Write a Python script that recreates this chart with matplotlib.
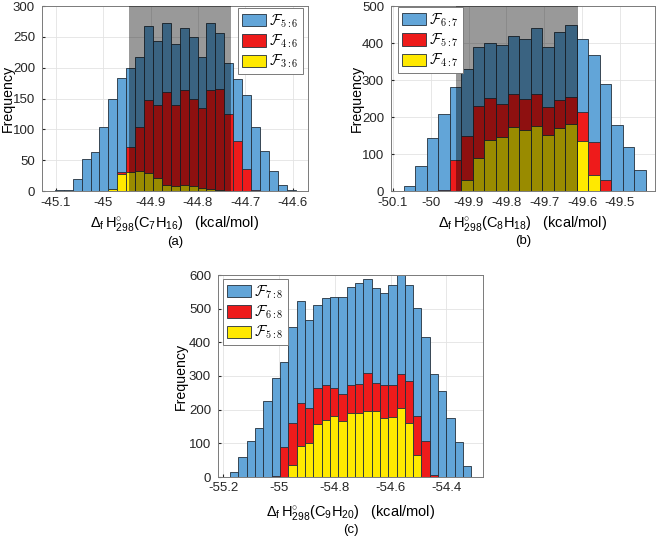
import numpy as np
import matplotlib
matplotlib.use("Agg")
import matplotlib.pyplot as plt

plt.rcParams['font.family'] = ['Liberation Sans', 'DejaVu Sans']
plt.rcParams['mathtext.fontset'] = 'custom'
plt.rcParams['mathtext.rm'] = 'Liberation Sans'
plt.rcParams['mathtext.it'] = 'Liberation Sans:italic'
plt.rcParams['mathtext.bf'] = 'Liberation Sans:bold'

# ---- data (counts per bin) ----
# panel (a): C7H16
start_a, width_a = -45.1018, 0.018805
blue_a = [1, 1, 20, 52, 64, 103, 150, 184, 200, 218, 268, 244, 273, 239, 264,
          250, 218, 273, 257, 208, 182, 155, 103, 65, 32, 9, 1]
red_a = [0, 0, 0, 0, 0, 0, 3, 31, 71, 103, 147, 139, 160, 139, 164,
         150, 135, 164, 166, 125, 81, 35, 1, 0, 0, 0, 0]
yellow_a = [0, 0, 0, 0, 0, 0, 3, 28, 31, 32, 29, 21, 9, 8, 9,
            8, 5, 3, 2, 0, 0, 0, 0, 0, 0, 0, 0]
shade_a = (-44.945, -44.7305)
labels_a = [r'$\mathcal{F}_{5:6}$', r'$\mathcal{F}_{4:6}$', r'$\mathcal{F}_{3:6}$']
xticks_a = [-45.1, -45.0, -44.9, -44.8, -44.7, -44.6]
xticklabels_a = ['-45.1', '-45', '-44.9', '-44.8', '-44.7', '-44.6']
xlim_a = (-45.129, -44.568)
yticks_a = [0, 50, 100, 150, 200, 250, 300]

# panel (b): C8H18
start_b, width_b = -50.0718, 0.03052
blue_b = [14, 68, 144, 208, 280, 331, 388, 399, 395, 420, 412, 440, 388, 429,
          450, 411, 367, 288, 179, 118, 56]
red_b = [0, 0, 0, 3, 83, 148, 229, 252, 234, 261, 250, 262, 227, 245,
         253, 214, 132, 31, 0, 0, 0]
yellow_b = [0, 0, 0, 0, 0, 29, 90, 137, 146, 173, 164, 175, 152, 171,
            180, 136, 43, 0, 0, 0, 0]
shade_b = (-49.9345, -49.610)
labels_b = [r'$\mathcal{F}_{6:7}$', r'$\mathcal{F}_{5:7}$', r'$\mathcal{F}_{4:7}$']
xticks_b = [-50.1, -50.0, -49.9, -49.8, -49.7, -49.6, -49.5]
xticklabels_b = ['-50.1', '-50', '-49.9', '-49.8', '-49.7', '-49.6', '-49.5']
xlim_b = (-50.1053, -49.407)
yticks_b = [0, 100, 200, 300, 400, 500]

# panel (c): C9H20
start_c, width_c = -55.1749, 0.02981
blue_c = [14, 60, 108, 147, 225, 295, 343, 445, 524, 466, 510, 531, 536, 535,
          563, 576, 589, 561, 548, 569, 600, 571, 502, 417, 307, 254, 175, 103, 34]
red_c = [0, 0, 0, 0, 0, 4, 88, 161, 220, 204, 264, 274, 264, 248,
         272, 276, 308, 279, 272, 274, 305, 285, 181, 108, 7, 0, 0, 0, 0]
yellow_c = [0, 0, 0, 0, 0, 0, 0, 36, 92, 100, 156, 169, 182, 167,
            190, 189, 196, 196, 175, 177, 206, 159, 64, 0, 0, 0, 0, 0, 0]
labels_c = [r'$\mathcal{F}_{7:8}$', r'$\mathcal{F}_{6:8}$', r'$\mathcal{F}_{5:8}$']
xticks_c = [-55.2, -55.0, -54.8, -54.6, -54.4]
xticklabels_c = ['-55.2', '-55', '-54.8', '-54.6', '-54.4']
xlim_c = (-55.218, -54.269)
yticks_c = [0, 100, 200, 300, 400, 500, 600]

xlabel_a = r'$\Delta_\mathrm{f}\,\mathrm{H}^{\circ}_{298}(\mathrm{C}_7\mathrm{H}_{16})$   (kcal/mol)'
xlabel_b = r'$\Delta_\mathrm{f}\,\mathrm{H}^{\circ}_{298}(\mathrm{C}_8\mathrm{H}_{18})$   (kcal/mol)'
xlabel_c = r'$\Delta_\mathrm{f}\,\mathrm{H}^{\circ}_{298}(\mathrm{C}_9\mathrm{H}_{20})$   (kcal/mol)'

BLUE = '#62a5d8'
RED = '#ee1b1b'
YELLOW = '#ffe900'
EDGE = '#23303c'
FRAME = '#7a7a7a'

W, H = 660, 545
fig = plt.figure(figsize=(W / 100, H / 100), dpi=100)


def panel(box, start, width, blue, red, yellow, labels, xticks, xticklabels,
          xlim, yticks, xlabel, tag, lay, shade=None):
    left, top, right, bottom = box
    aw, ah = right - left, bottom - top
    ax = fig.add_axes([left / W, 1 - bottom / H, aw / W, ah / H])
    n = len(blue)
    edges = start + width * np.arange(n + 1)
    for vals, col, lab in zip([blue, red, yellow], [BLUE, RED, YELLOW], labels):
        ax.bar(edges[:-1], vals, width=width, align='edge', color=col,
               edgecolor=EDGE, linewidth=0.6, label=lab, zorder=2)
    if shade is not None:
        ax.axvspan(shade[0], shade[1], color='black', alpha=0.4, lw=0, zorder=3)
    ax.set_xlim(xlim)
    ax.set_ylim(yticks[0], yticks[-1])
    ax.set_xticks(xticks)
    ax.set_xticklabels(xticklabels)
    ax.set_yticks(yticks)
    ax.grid(True, color='#e3e3e3', lw=0.6, zorder=0)
    ax.set_axisbelow(True)
    ax.tick_params(direction='in', length=2.5, labelsize=9.5, colors='#262626')
    ax.tick_params(axis='x', pad=lay['xpad'])
    ax.tick_params(axis='y', pad=5)
    for s in ax.spines.values():
        s.set_color(FRAME)
        s.set_linewidth(0.7)
    ax.set_ylabel('Frequency', fontsize=10.2)
    ax.yaxis.set_label_coords((lay['ylab_x'] - left) / aw, 0.5)
    ax.set_xlabel(xlabel, fontsize=10.5)
    ax.xaxis.set_label_coords(0.5, (bottom - lay['xlab_top']) / ah)
    lx, ly, loc = lay['leg']
    leg = ax.legend(loc=loc, bbox_to_anchor=((lx - left) / aw, (bottom - ly) / ah),
                    prop={'math_fontfamily': 'cm', 'size': 10.5},
                    fancybox=False, framealpha=1, edgecolor=FRAME,
                    handlelength=1.65, handleheight=0.9, labelspacing=0.18,
                    handletextpad=0.2, borderpad=0.3, borderaxespad=0)
    leg.set_zorder(5)
    leg.get_frame().set_linewidth(0.7)
    ax.text(0.5, (bottom - lay['tag_y']) / ah, tag, transform=ax.transAxes,
            ha='center', va='center', fontsize=9.5)
    return ax


lay_a = dict(xpad=4.5, ylab_x=15, xlab_top=214, tag_y=242, leg=(303, 8, 'upper right'))
lay_b = dict(xpad=4.5, ylab_x=364, xlab_top=214, tag_y=241, leg=(398, 7, 'upper left'))
lay_c = dict(xpad=3.5, ylab_x=188, xlab_top=503, tag_y=530, leg=(223, 279, 'upper left'))

panel((42, 6, 308, 191), start_a, width_a, blue_a, red_a, yellow_a, labels_a,
      xticks_a, xticklabels_a, xlim_a, yticks_a, xlabel_a, '(a)', lay_a, shade_a)
panel((391, 6, 655, 191), start_b, width_b, blue_b, red_b, yellow_b, labels_b,
      xticks_b, xticklabels_b, xlim_b, yticks_b, xlabel_b, '(b)', lay_b, shade_b)
panel((218, 275, 483, 477), start_c, width_c, blue_c, red_c, yellow_c, labels_c,
      xticks_c, xticklabels_c, xlim_c, yticks_c, xlabel_c, '(c)', lay_c)

fig.savefig('out.png', dpi=100)
